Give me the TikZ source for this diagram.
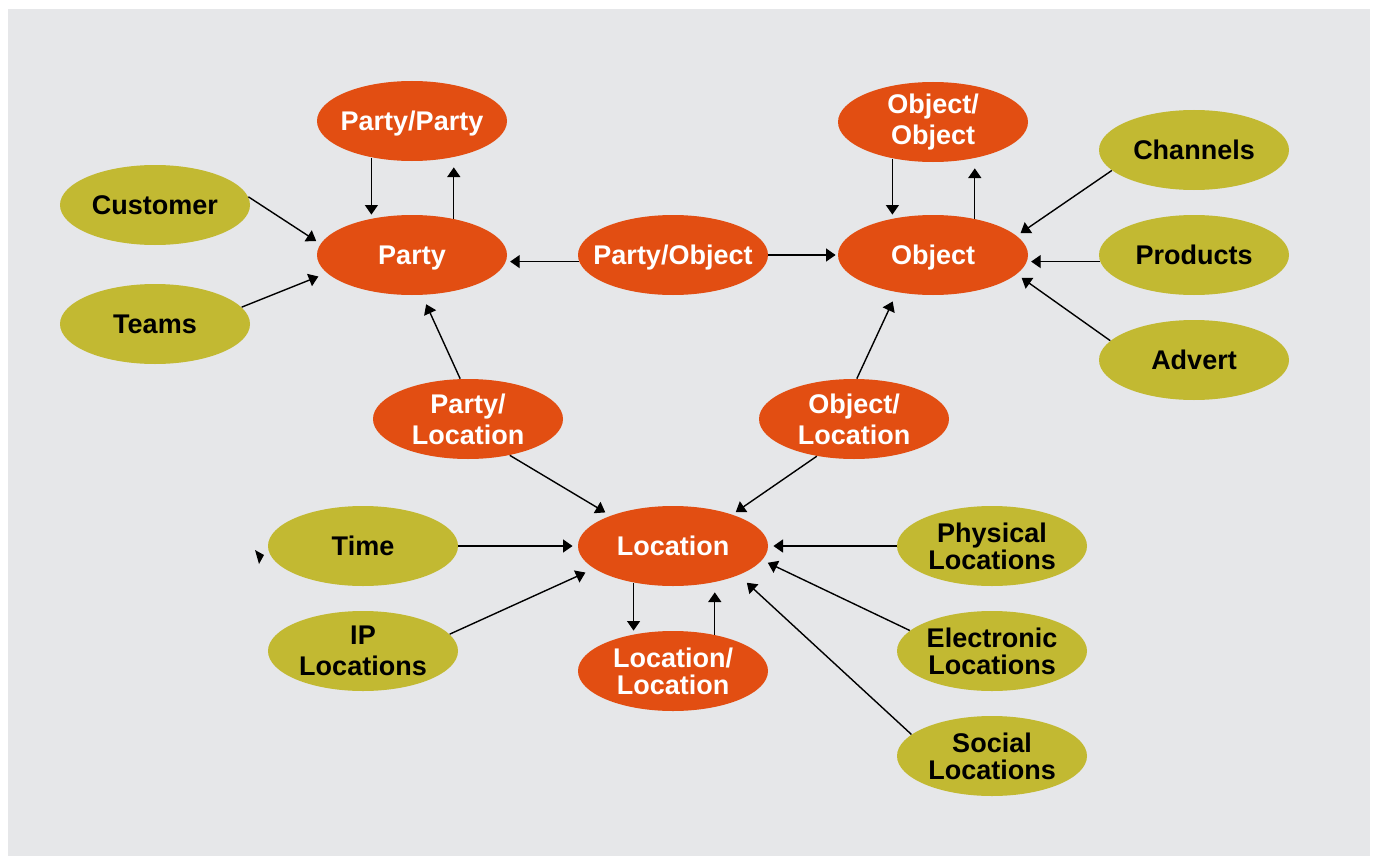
\documentclass[tikz,border=0pt]{standalone}
\usepackage{fontspec}
\setmainfont{Liberation Sans}
\usetikzlibrary{arrows.meta,shapes.geometric}
\definecolor{cRel}{HTML}{E24E12}
\definecolor{cSrc}{HTML}{C2B932}
\definecolor{cBg}{HTML}{E6E7E9}

\begin{document}
\begin{tikzpicture}[x=0.5pt, y=-0.5pt, font=\fontsize{13.5}{15.5}\selectfont\bfseries,
  ent/.style={ellipse, fill=#1, minimum width=95pt, minimum height=40pt, inner xsep=-8pt, inner ysep=-2pt, align=center},
  rel/.style={ent=cRel, text=white},
  src/.style={ent=cSrc, text=black},
  tight/.style={font=\fontsize{13.5}{13.5}\selectfont\bfseries},
  flat/.style={text depth=0pt},
  link/.style={-{Triangle[length=4.8pt, width=6.5pt]}, line width=0.7pt, shorten >=#1},
  link/.default=0pt]
  \useasboundingbox (0,0) rectangle (1375,856);
  \fill[cBg] (8,9) rectangle (1370,856);
  % relation entities
  \node[rel, flat] (pp)    at (412,121) {Party/Party};
  \node[rel, flat] (party) at (412,255) {Party};
  \node[rel, flat] (po)    at (673,255) {Party/Object};
  \node[rel] (oo)    at (933,122) {Object/\\Object};
  \node[rel, flat] (obj)   at (933,255) {Object};
  \node[rel] (pl)    at (468,419) {Party/\\Location};
  \node[rel] (ol)    at (854,419) {Object/\\Location};
  \node[rel] (loc)   at (673,546) {Location};
  \node[rel, tight] (ll) at (673,671) {Location/\\Location};
  % source entities
  \node[src] (cust)  at (155,205) {Customer};
  \node[src] (teams) at (155,324) {Teams};
  \node[src] (chan)  at (1194,150) {Channels};
  \node[src] (prod)  at (1194,255) {Products};
  \node[src] (adv)   at (1194,360) {Advert};
  \node[src] (time)  at (363,546) {Time};
  \node[src] (ip)    at (363,651) {IP\\Locations};
  \node[src, tight] (phys) at (992,546) {Physical\\Locations};
  \node[src, tight] (elec) at (992,651) {Electronic\\Locations};
  \node[src, tight] (soc)  at (992,756) {Social\\Locations};
  % connectors
  \draw[link=2.5pt] (cust.5) -- (party.173);
  \draw[link=4.5pt] (teams.11) -- (party.192);
  \draw[link] (pp.-138) -- (pp.-138 |- party.north);
  \draw[link=3pt] (party.41) -- (party.41 |- pp.south);
  \draw[link=2pt] (po.184) -- (party.-4);
  \draw[link=1pt] (po.east) -- (obj.west);
  \draw[link] (oo.-138) -- (oo.-138 |- obj.north);
  \draw[link=3pt] (obj.41) -- (obj.41 |- oo.south);
  \draw[link=2.3pt] (chan.194) -- (obj.13);
  \draw[link=2pt] (prod.184) -- (obj.-4);
  \draw[link=3pt] (adv.167) -- (obj.-13);
  \draw[link=5pt] (pl.101) -- (party.-76);
  \draw[link=3pt] (pl.-41) -- (loc.154);
  \draw[link=5pt] (ol.86) -- (obj.-134);
  \draw[link=2pt] (ol.-135) -- (loc.28);
  \draw[link=2.5pt] (time.east) -- (loc.west);
  \draw[link=4.7pt] (ip.11) -- (loc.196);
  \draw[link] (loc.-137) -- (loc.-137 |- ll.north);
  \draw[link=3pt] (ll.41) -- (ll.41 |- loc.south);
  \draw[link=2.5pt] (phys.west) -- (loc.east);
  \draw[link=3pt] (elec.166) -- (loc.-9);
  \draw[link=5.5pt] (soc.165) -- (loc.-24);
  % stray arrow head
  \fill (255,550) -- (264,555) -- (259,564) -- cycle;
\end{tikzpicture}
\end{document}
